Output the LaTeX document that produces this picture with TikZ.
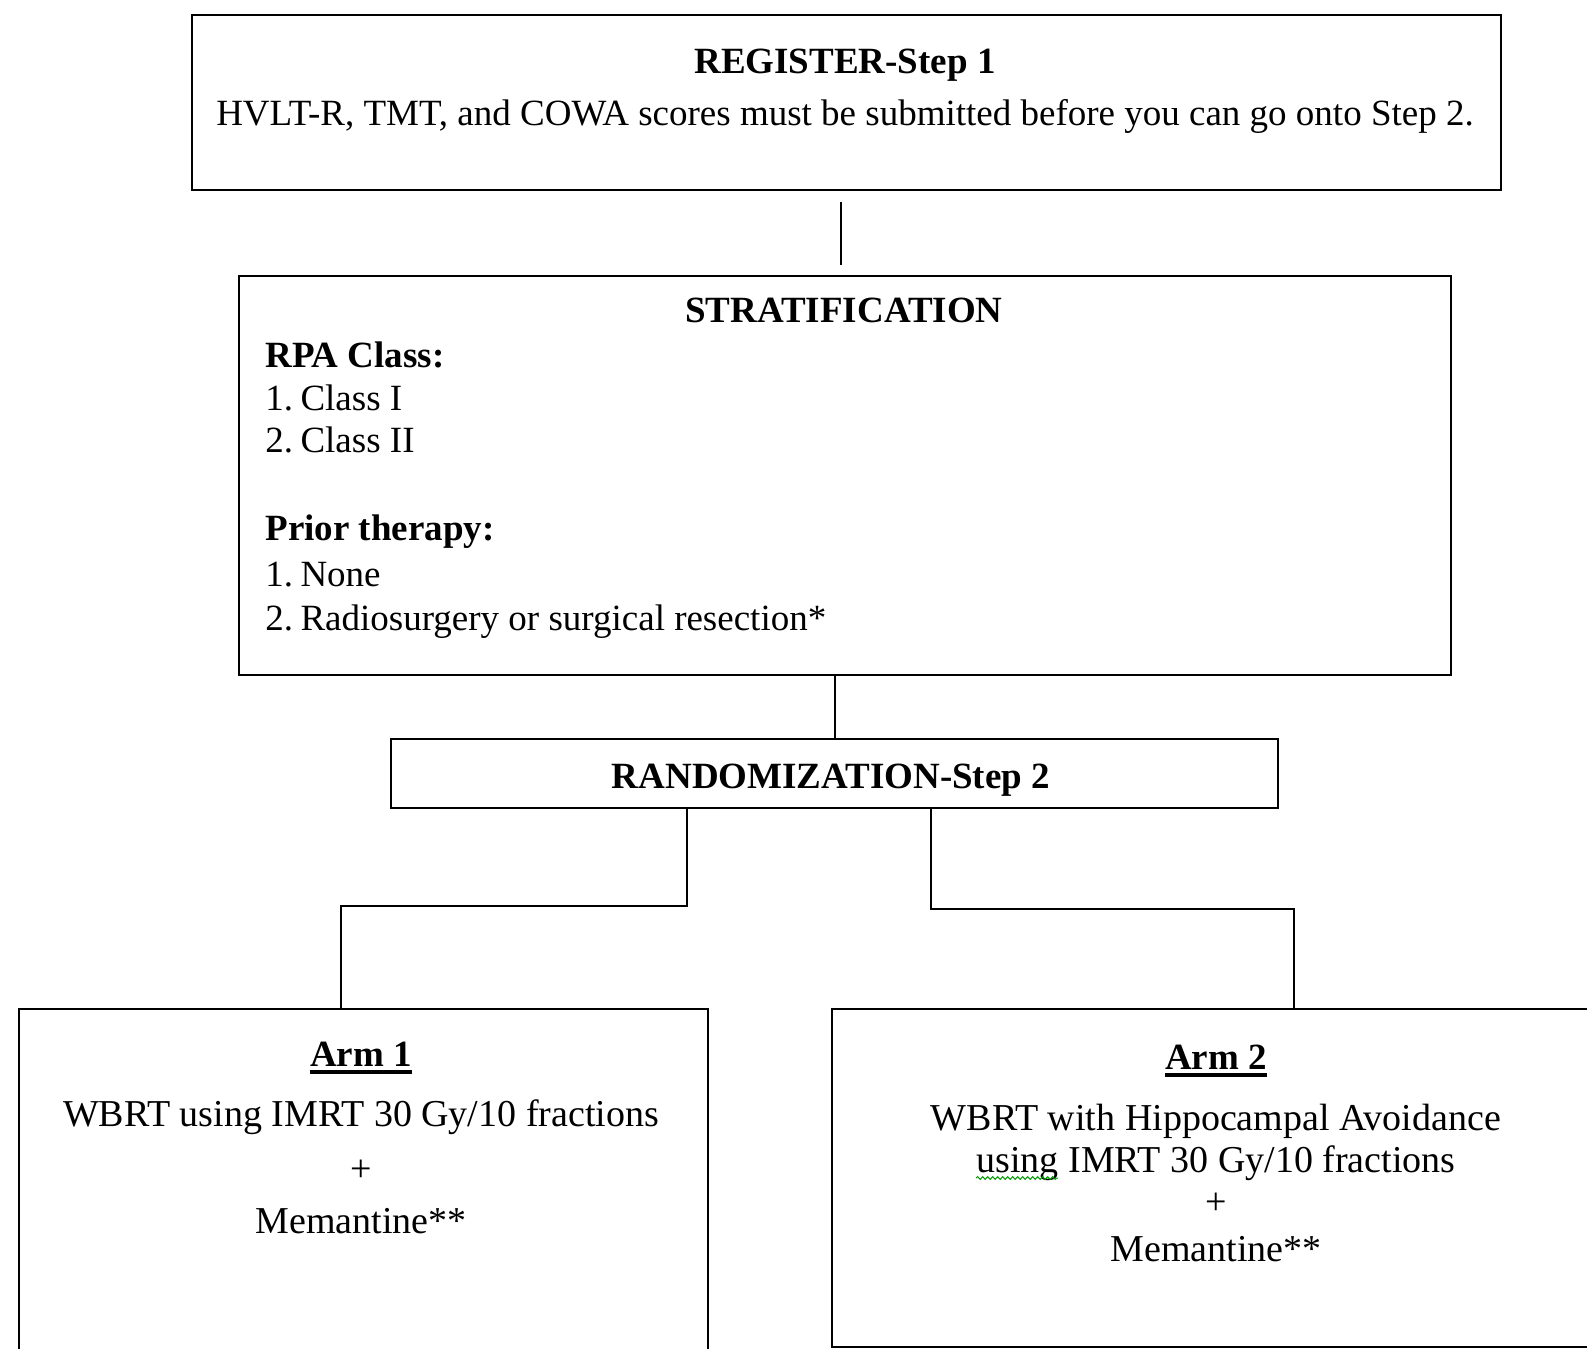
\documentclass[tikz,border=0pt]{standalone}
\usepackage{fontspec}
\setmainfont{Liberation Serif}
\usetikzlibrary{decorations.pathmorphing}

\tikzset{
	box/.style={draw, line width=1pt, inner sep=0pt},
	link/.style={line width=1pt},
	txt/.style={inner sep=0pt, anchor=base, font=\fontsize{18.5}{22}\selectfont},
	armtxt/.style={txt, font=\fontsize{19}{22}\selectfont},
	hd/.style={txt, font=\fontsize{18.5}{22}\selectfont\bfseries},
	uline/.style={line width=1.6pt},
}

\begin{document}
\begin{tikzpicture}[x=0.5pt, y=-0.5pt]
	\useasboundingbox (0,0) rectangle (1587,1349);
	\clip (0,0) rectangle (1587,1349);

	% boxes
	\node[box, minimum width=654.5pt, minimum height=87.5pt] (reg) at (846.5,102.5) {};
	\node[box, minimum width=606pt, minimum height=199.5pt] (strat) at (845,475.5) {};
	\node[box, minimum width=443.5pt, minimum height=34.5pt] (random) at (834.5,773.5) {};
	\node[box, minimum width=344.5pt, minimum height=200pt] (arm1) at (363.5,1209) {};
	\node[box, minimum width=404pt, minimum height=169pt] (arm2) at (1236,1178) {};

	% texts
	\node[hd] (regT) at (845,73) {REGISTER-Step 1};
	\node[txt] (regL) at (845,125) {HVLT-R, TMT, and COWA scores must be submitted before you can go onto Step 2.};

	\node[hd] (stratT) at (844,322) {STRATIFICATION};
	\node[hd, anchor=base west] (rpaT) at (265,367) {RPA Class:};
	\node[txt, anchor=base west] (rpa1) at (265,410) {1.\hspace{0.2em}Class I};
	\node[txt, anchor=base west] (rpa2) at (265,452) {2.\hspace{0.2em}Class II};
	\node[hd, anchor=base west] (priorT) at (265,540) {Prior therapy:};
	\node[txt, anchor=base west] (prior1) at (265,586) {1.\hspace{0.2em}None};
	\node[txt, anchor=base west] (prior2) at (265,630) {2.\hspace{0.2em}Radiosurgery or surgical resection*};

	\node[hd] (randomT) at (831,788) {RANDOMIZATION-Step 2};

	\node[hd] (arm1T) at (361,1066) {Arm 1};
	\node[armtxt] (arm1L1) at (361,1126) {WBRT using IMRT 30 Gy/10 fractions};
	\node[armtxt] (arm1L2) at (361,1181) {+};
	\node[armtxt] (arm1L3) at (361,1233) {Memantine**};
	\draw[uline] ([yshift=-3pt]arm1T.base west) -- ([yshift=-3pt]arm1T.base east);

	\node[hd] (arm2T) at (1216,1069) {Arm 2};
	\node[armtxt] (arm2L1) at (1216,1130) {WBRT with Hippocampal Avoidance};
	\node[armtxt] (arm2L2) at (1216,1172) {using IMRT 30 Gy/10 fractions};
	\node[armtxt] (arm2L3) at (1216,1214) {+};
	\node[armtxt] (arm2L4) at (1216,1261) {Memantine**};
	\draw[uline] ([yshift=-3pt]arm2T.base west) -- ([yshift=-3pt]arm2T.base east);
	\draw[green!60!black, line width=0.5pt, decorate, decoration={snake, amplitude=0.7pt, segment length=2.5pt}] ([yshift=-3pt]arm2L2.base west) -- ++(82,0);

	% connectors
	\coordinate (gapTop) at (841,202);
	\coordinate (gapBot) at (841,265);
	\draw[link] (gapTop) -- (gapBot);
	\draw[link] (random.north) -- (random.north |- strat.south);

	\coordinate (fork1) at (687,906);
	\coordinate (fork2) at (931,909);
	\draw[link] (fork1 |- random.south) -- (fork1) -| (341,0 |- arm1.north);
	\draw[link] (fork2 |- random.south) -- (fork2) -| (1294,0 |- arm2.north);
\end{tikzpicture}
\end{document}
